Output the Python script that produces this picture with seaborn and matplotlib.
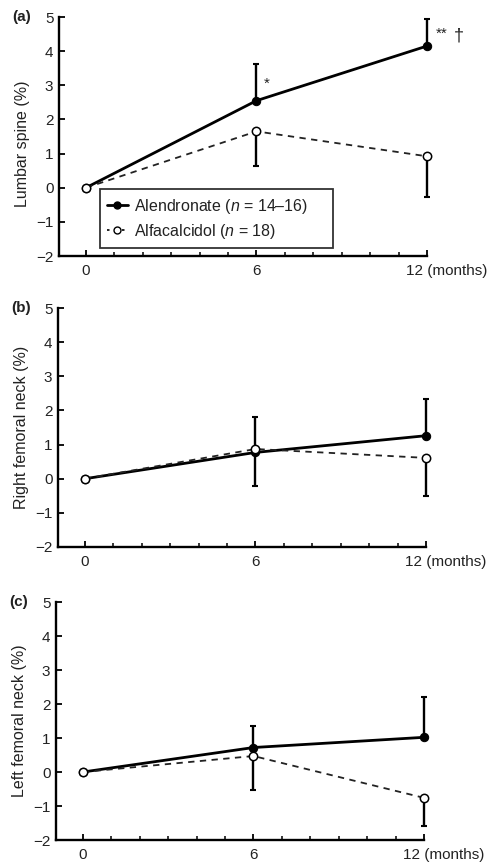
import numpy as np
import pandas as pd
import matplotlib
matplotlib.use("Agg")
import matplotlib.pyplot as plt
import matplotlib.transforms as mtransforms
import seaborn as sns
from matplotlib.lines import Line2D
from matplotlib.legend_handler import HandlerLine2D
from matplotlib.ticker import MultipleLocator, FixedLocator

# ---------------- data ----------------
months = [0, 6, 12]
groups = ["Alendronate", "Alfacalcidol"]
legend_labels = ["Alendronate ($n$ = 14\u201316)", "Alfacalcidol ($n$ = 18)"]
panel_tags = ["(a)", "(b)", "(c)"]
ylabels = ["Lumbar spine (%)", "Right femoral neck (%)", "Left femoral neck (%)"]
yticks = [-2, -1, 0, 1, 2, 3, 4, 5]
xtick_labels = ["0", "6", ""]
last_tick_label = "12 (months)"

alen_a = [0, 2.55, 4.15]
alen_a_err = [0, 1.08, 0.80]
alfa_a = [0, 1.65, 0.92]
alfa_a_err = [0, 1.02, 1.20]

alen_b = [0, 0.77, 1.26]
alen_b_err = [0, 1.05, 1.08]
alfa_b = [0, 0.87, 0.61]
alfa_b_err = [0, 1.07, 1.12]

alen_c = [0, 0.72, 1.02]
alen_c_err = [0, 0.62, 1.20]
alfa_c = [0, 0.47, -0.76]
alfa_c_err = [0, 1.00, 0.84]

panels = [
    (alen_a, alen_a_err, alfa_a, alfa_a_err),
    (alen_b, alen_b_err, alfa_b, alfa_b_err),
    (alen_c, alen_c_err, alfa_c, alfa_c_err),
]

# ---------------- style ----------------
sns.set_style("ticks")
plt.rcParams["font.family"] = ["Liberation Sans", "DejaVu Sans"]
plt.rcParams["mathtext.fontset"] = "custom"
plt.rcParams["mathtext.it"] = "Liberation Sans:italic"
plt.rcParams["mathtext.rm"] = "Liberation Sans"

TXT = "#222222"
TICK_FS = 11
XPAD = 6
W, H = 493, 866
fig = plt.figure(figsize=(W / 100, H / 100), dpi=100)
fig.patch.set_facecolor("white")


class RightMarkerHandler(HandlerLine2D):
    """Legend handle with the marker at the right end of the line."""
    def get_xdata(self, legend, xdescent, ydescent, width, height, fontsize):
        xdata, _ = super().get_xdata(legend, xdescent, ydescent, width, height, fontsize)
        return xdata, np.array([-xdescent + width * 0.85])


# axes boxes in pixels: (left, top, right, bottom)
boxes = [(59, 17, 427, 256), (58, 308, 426, 547), (56, 602, 424, 840)]

for i, (box, (alen, alen_err, alfa, alfa_err)) in enumerate(zip(boxes, panels)):
    l, t, r, b = box
    ax = fig.add_axes([l / W, (H - b) / H, (r - l) / W, (b - t) / H])
    ax.set_facecolor("white")

    df = pd.DataFrame({
        "month": months * 2,
        "value": alen + alfa,
        "group": [groups[0]] * 3 + [groups[1]] * 3,
    })
    d1 = df[df.group == groups[0]]
    d2 = df[df.group == groups[1]]

    # error bars (one-sided)
    ax.errorbar(months, alen, yerr=[np.zeros(3), alen_err], fmt="none",
                ecolor="black", elinewidth=1.7, capsize=2.5, capthick=1.5,
                clip_on=False, zorder=2)
    ax.errorbar(months, alfa, yerr=[alfa_err, np.zeros(3)], fmt="none",
                ecolor="black", elinewidth=1.7, capsize=2.5, capthick=1.5,
                clip_on=False, zorder=2)

    sns.lineplot(data=d1, x="month", y="value", ax=ax, color="black",
                 linewidth=2.0, marker="o", markersize=6, markerfacecolor="black",
                 markeredgecolor="black", clip_on=False, zorder=3, errorbar=None)
    sns.lineplot(data=d2, x="month", y="value", ax=ax, color="#222222",
                 linewidth=1.3, linestyle=(0, (3.5, 3)), marker="o", markersize=6,
                 markerfacecolor="white", markeredgecolor="black",
                 markeredgewidth=1.1, clip_on=False, zorder=4, errorbar=None)

    ax.set_xlim(-0.95, 12)
    ax.set_ylim(-2, 5)
    ax.set_yticks(yticks)
    ax.set_yticklabels([str(v).replace("-", "\u2212") for v in yticks], fontsize=TICK_FS)
    ax.xaxis.set_major_locator(FixedLocator(months))
    ax.xaxis.set_minor_locator(MultipleLocator(1))
    ax.set_xticklabels(xtick_labels, fontsize=TICK_FS)
    ax.tick_params(axis="both", which="major", direction="in", length=4, width=1.3,
                   color="black", labelcolor=TXT)
    ax.tick_params(axis="x", which="major", pad=XPAD)
    ax.tick_params(axis="y", which="major", pad=4)
    ax.tick_params(axis="x", which="minor", direction="in", length=3, width=1.3)
    for s in ["top", "right"]:
        ax.spines[s].set_visible(False)
    for s in ["left", "bottom"]:
        ax.spines[s].set_linewidth(1.7)
        ax.spines[s].set_color("black")

    ax.set_xlabel("")
    ax.set_ylabel(ylabels[i], fontsize=11.5, color=TXT)
    ax.yaxis.set_label_coords(-29 / (r - l), 0.47 if i == 0 else 0.5)

    # "12 (months)" label placed like a tick label
    off = mtransforms.ScaledTranslation(0, -XPAD / 72, fig.dpi_scale_trans)
    ax.text(11.26, -2, last_tick_label, transform=ax.transData + off,
            fontsize=TICK_FS, color=TXT, ha="left", va="top", clip_on=False)

    # panel tag
    ax.text(-47 / (r - l), 5, panel_tags[i], transform=ax.get_yaxis_transform(),
            fontsize=11, fontweight="bold", ha="left", va="center", color=TXT)

    if i == 0:
        ax.text(6.25, 3.05, "*", fontsize=11, ha="left", va="center", color=TXT)
        ax.text(12.3, 4.5, "**", fontsize=11, ha="left", va="center", clip_on=False,
                color=TXT)
        ax.text(12.95, 4.45, "\u2020", fontsize=13, ha="left", va="center",
                clip_on=False, color=TXT)
        handles = [
            Line2D([], [], color="black", linewidth=2.0, marker="o", markersize=5,
                   markerfacecolor="black"),
            Line2D([], [], color="black", linewidth=1.2, linestyle=(0, (1.5, 3)),
                   marker="o", markersize=5, markerfacecolor="white"),
        ]
        leg = ax.legend(handles, legend_labels, loc="lower left",
                        bbox_to_anchor=(0.111, 0.033, 0.633, 0.25), mode="expand",
                        borderaxespad=0, fontsize=11.5, frameon=True, fancybox=False,
                        handlelength=1.3, handletextpad=0.4, borderpad=0.45,
                        labelspacing=0.4,
                        handler_map={Line2D: RightMarkerHandler(numpoints=1)})
        leg.get_frame().set_edgecolor("black")
        leg.get_frame().set_linewidth(1.3)
        for txt in leg.get_texts():
            txt.set_color(TXT)
    else:
        lg = ax.get_legend()
        if lg is not None:
            lg.remove()

fig.savefig("out.png", dpi=100, facecolor="white")
